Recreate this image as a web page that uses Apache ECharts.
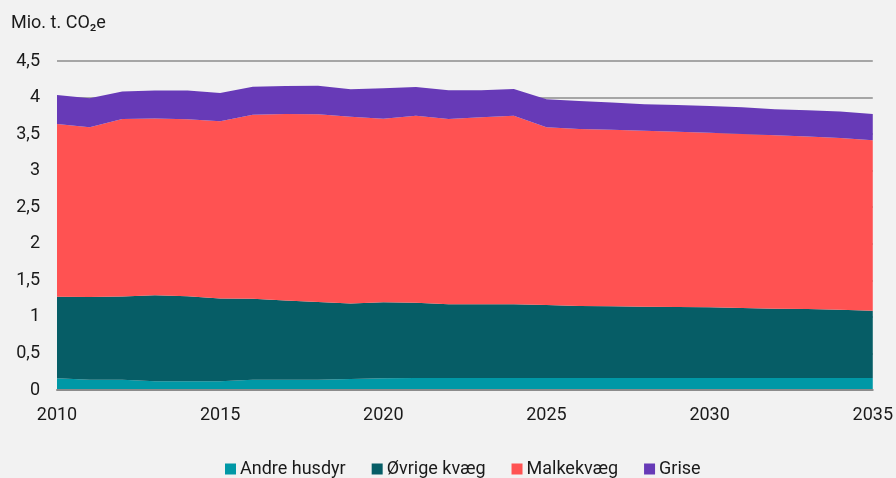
<!DOCTYPE html>
<html>
<head>
<meta charset="utf-8">
<script src="https://cdn.jsdelivr.net/npm/echarts@6/dist/echarts.min.js"></script>
<style>
  html, body { margin: 0; padding: 0; background: #f2f2f2; }
  #chart { width: 896px; height: 478px; }
</style>
</head>
<body>
<div id="chart"></div>
<script>
// Years 2010–2035
const years = [];
for (let y = 2010; y <= 2035; y++) years.push(String(y));

// Emissions per source, mio. t CO2e
const andreHusdyr = [0.16, 0.14, 0.14, 0.12, 0.12, 0.12, 0.14, 0.14, 0.14, 0.15, 0.16, 0.165, 0.165,
  0.165, 0.165, 0.165, 0.165, 0.165, 0.165, 0.165, 0.165, 0.165, 0.165, 0.165, 0.165, 0.165];
const oevrigeKvaeg = [1.116, 1.132, 1.139, 1.177, 1.163, 1.131, 1.108, 1.085, 1.064, 1.033, 1.04, 1.03, 1.007,
  1.007, 1.007, 0.998, 0.984, 0.98, 0.975, 0.971, 0.966, 0.957, 0.948, 0.943, 0.934, 0.92];
const malkekvaeg = [2.363, 2.322, 2.427, 2.417, 2.421, 2.426, 2.517, 2.549, 2.567, 2.556, 2.511, 2.557, 2.535,
  2.558, 2.58, 2.431, 2.421, 2.416, 2.407, 2.398, 2.389, 2.38, 2.371, 2.358, 2.348, 2.331];
const grise = [0.396, 0.396, 0.377, 0.383, 0.393, 0.387, 0.383, 0.384, 0.392, 0.374, 0.416, 0.393, 0.393,
  0.37, 0.366, 0.383, 0.383, 0.372, 0.361, 0.365, 0.365, 0.365, 0.356, 0.36, 0.363, 0.36];

const seriesNames = ['Andre husdyr', 'Øvrige kvæg', 'Malkekvæg', 'Grise'];
const seriesData = [andreHusdyr, oevrigeKvaeg, malkekvaeg, grise];
const colors = ['#0098a6', '#065d66', '#ff5252', '#673ab7'];

const chart = echarts.init(document.getElementById('chart'), null, { renderer: 'canvas' });
const font = 'Roboto, "Noto Sans", sans-serif';

chart.setOption({
  backgroundColor: '#f2f2f2',
  animation: false,
  color: colors,
  textStyle: { fontFamily: font },
  grid: { left: 57, right: 22, top: 61, bottom: 88, containLabel: false },
  title: {
    text: 'Mio. t. CO₂e',
    left: 6, top: 9,
    textStyle: { fontFamily: font, fontSize: 18, fontWeight: 'normal', color: '#1a1a1a' }
  },
  legend: {
    data: seriesNames,
    top: 455,
    left: 220,
    itemWidth: 11, itemHeight: 11, itemGap: 26,
    icon: 'rect',
    textStyle: { fontFamily: font, fontSize: 18, color: '#1a1a1a', padding: [0, 0, 0, -1] }
  },
  xAxis: {
    type: 'category',
    data: years,
    boundaryGap: false,
    axisLine: { lineStyle: { color: '#8c8c8c', width: 2 } },
    axisTick: { show: false },
    axisLabel: { interval: 4, fontSize: 18, color: '#1a1a1a', margin: 16, fontFamily: font },
    z: 10
  },
  yAxis: {
    type: 'value',
    min: 0, max: 4.5, interval: 0.5,
    axisLine: { show: false },
    axisTick: { show: false },
    splitLine: { lineStyle: { color: '#8c8c8c', width: 1.5 } },
    axisLabel: {
      fontSize: 18, color: '#1a1a1a', margin: 17, fontFamily: font,
      formatter: v => String(v).replace('.', ',')
    }
  },
  series: seriesNames.map((name, i) => ({
    name,
    type: 'line',
    stack: 'total',
    data: seriesData[i],
    symbol: 'none',
    lineStyle: { width: 0 },
    areaStyle: { color: colors[i], opacity: 1 },
    emphasis: { disabled: true }
  }))
});
</script>
</body>
</html>
